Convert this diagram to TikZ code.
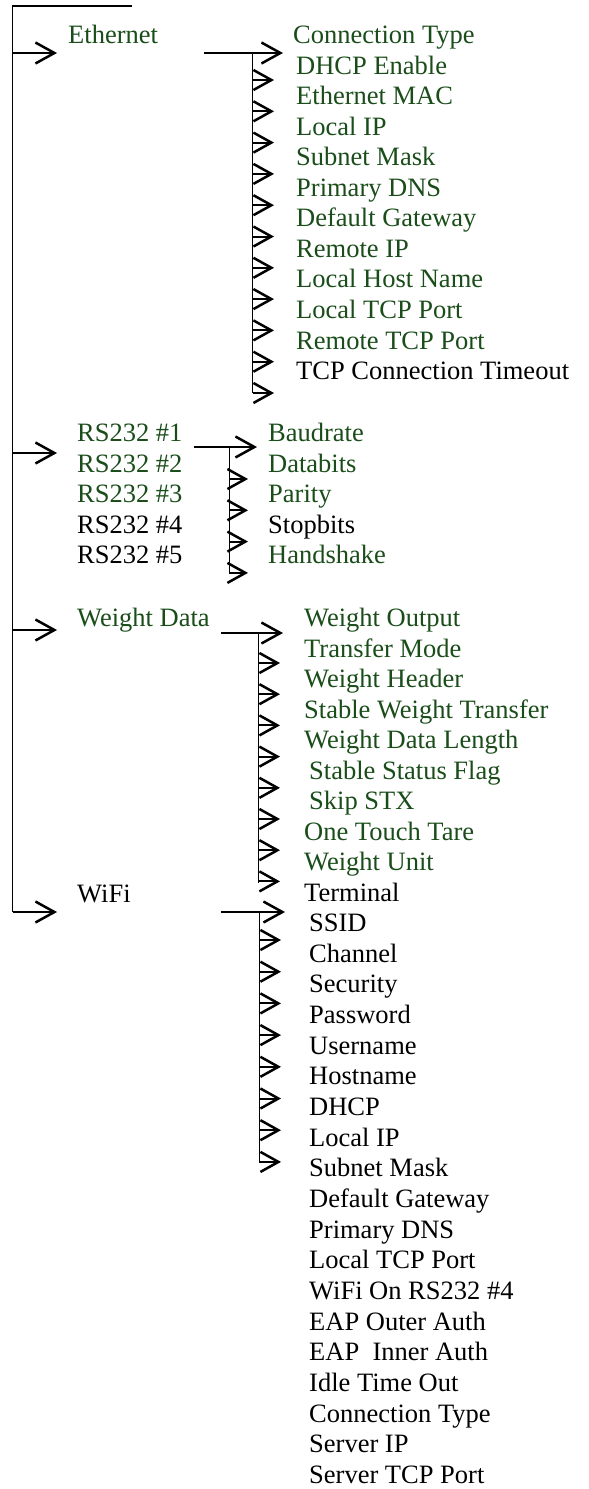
\documentclass[tikz,border=0pt]{standalone}
\usepackage{fontspec}
\setmainfont{Liberation Serif}
\usetikzlibrary{arrows.meta}
\definecolor{dgreen}{HTML}{1A4D1A}
\begin{document}
\begin{tikzpicture}[x=1pt,y=-1pt,
  lbl/.style={anchor=base west,inner sep=0pt,font=\fontsize{26.5}{30}\selectfont},
  trunk/.style={draw=black,line width=1.1pt},
  arr/.style={draw=black,line width=2pt,-{Straight Barb[length=19pt,width=21pt,line width=2.5pt]}},
  sarr/.style={draw=black,line width=2pt,-{Straight Barb[length=18pt,width=20pt,line width=2.5pt]}}]
\useasboundingbox (0,0) rectangle (589,1489);

% ---- left trunk
\coordinate (top0) at (12.5,6);
\coordinate (top1) at (132,6);
\coordinate (trunkEnd) at (12.5,912);
\draw[trunk] (top1) -- (top0) -- (trunkEnd);

% ---- level-1 labels
\node[lbl,text=dgreen] (eth) at (68,43.5) {Ethernet};
\foreach \c/\t [count=\i from 0] in {dgreen/RS232 \#1,dgreen/RS232 \#2,dgreen/RS232 \#3,black/RS232 \#4,black/RS232 \#5}
  \node[lbl,text=\c] (rs\i) at (77,{433+\i*30.5+8.5}) {\t};
\node[lbl,text=dgreen] (wd) at (77,626) {Weight Data};
\node[lbl,text=black] (wifi) at (77,902) {WiFi};

% ---- trunk arrows
\foreach \n/\y in {a/53,b/453,c/630,d/912}{
  \coordinate (L\n s) at (12.5,\y);
  \coordinate (L\n e) at (57,\y);
  \draw[arr] (L\n s) -- (L\n e);
}

% ---- Ethernet branch
\foreach \c/\t [count=\i from 0] in {dgreen/Connection Type,dgreen/DHCP Enable,dgreen/Ethernet MAC,dgreen/Local IP,dgreen/Subnet Mask,dgreen/Primary DNS,dgreen/Default Gateway,dgreen/Remote IP,dgreen/Local Host Name,dgreen/Local TCP Port,dgreen/Remote TCP Port,black/TCP Connection Timeout}{
  \ifnum\i=0
    \node[lbl,text=\c] (e\i) at (293,{35+\i*30.55+8.5}) {\t};
  \else
    \node[lbl,text=\c] (e\i) at (296,{35+\i*30.55+8.5}) {\t};
  \fi
}
\coordinate (eS) at (204,53);
\coordinate (eV) at (252.5,53);
\coordinate (eE) at (283,53);
\coordinate (eB) at (252.5,393);
\draw[arr] (eS) -- (eE);
\draw[trunk,line width=1pt] (eV) -- (eB);
\foreach \i in {0,...,10}{
  \coordinate (ea\i) at (252.5,{80+\i*31.3});
  \coordinate (eb\i) at (274,{80+\i*31.3});
  \draw[sarr] (ea\i) -- (eb\i);
}

% ---- RS232 branch
\foreach \c/\t [count=\i from 0] in {dgreen/Baudrate,dgreen/Databits,dgreen/Parity,black/Stopbits,dgreen/Handshake}
  \node[lbl,text=\c] (r\i) at (268,{433+\i*30.5+8.5}) {\t};
\coordinate (rS) at (194,447);
\coordinate (rV) at (229,447);
\coordinate (rE) at (257,447);
\coordinate (rB) at (229,573);
\draw[arr] (rS) -- (rE);
\draw[trunk,line width=1pt] (rV) -- (rB);
\foreach \i in {0,...,3}{
  \coordinate (ra\i) at (229,{479+\i*31.3});
  \coordinate (rb\i) at (248,{479+\i*31.3});
  \draw[sarr] (ra\i) -- (rb\i);
}

% ---- Weight Data branch
\foreach \c/\t/\x [count=\i from 0] in {dgreen/Weight Output/304,dgreen/Transfer Mode/304,dgreen/Weight Header/304,dgreen/Stable Weight Transfer/304,dgreen/Weight Data Length/304,dgreen/Stable Status Flag/309,dgreen/Skip STX/309,dgreen/One Touch Tare/304,dgreen/Weight Unit/304,black/Terminal/304}
  \node[lbl,text=\c] (w\i) at (\x,{618+\i*30.5+8.5}) {\t};
\coordinate (wS) at (221,633);
\coordinate (wV) at (258,633);
\coordinate (wE) at (283,633);
\coordinate (wB) at (258,883);
\draw[arr] (wS) -- (wE);
\draw[trunk,line width=1pt] (wV) -- (wB);
\foreach \i in {0,...,7}{
  \coordinate (wa\i) at (258,{663+\i*31.2});
  \coordinate (wb\i) at (280,{663+\i*31.2});
  \draw[sarr] (wa\i) -- (wb\i);
}

% ---- WiFi branch
\foreach \t [count=\i from 0] in {SSID,Channel,Security,Password,Username,Hostname,DHCP,Local IP,Subnet Mask,Default Gateway,Primary DNS,Local TCP Port,WiFi On RS232 \#4,EAP Outer Auth,EAP\ \ Inner Auth,Idle Time Out,Connection Type,Server IP,Server TCP Port}
  \node[lbl,text=black] (f\i) at (309,{923+\i*30.67+8.5}) {\t};
\coordinate (fS) at (221,912);
\coordinate (fV) at (259,912);
\coordinate (fE) at (285,912);
\coordinate (fB) at (259,1162);
\draw[arr] (fS) -- (fE);
\draw[trunk,line width=1pt] (fV) -- (fB);
\foreach \i in {0,...,7}{
  \coordinate (fa\i) at (259,{940+\i*31.7});
  \coordinate (fb\i) at (281,{940+\i*31.7});
  \draw[sarr] (fa\i) -- (fb\i);
}
\end{tikzpicture}
\end{document}
